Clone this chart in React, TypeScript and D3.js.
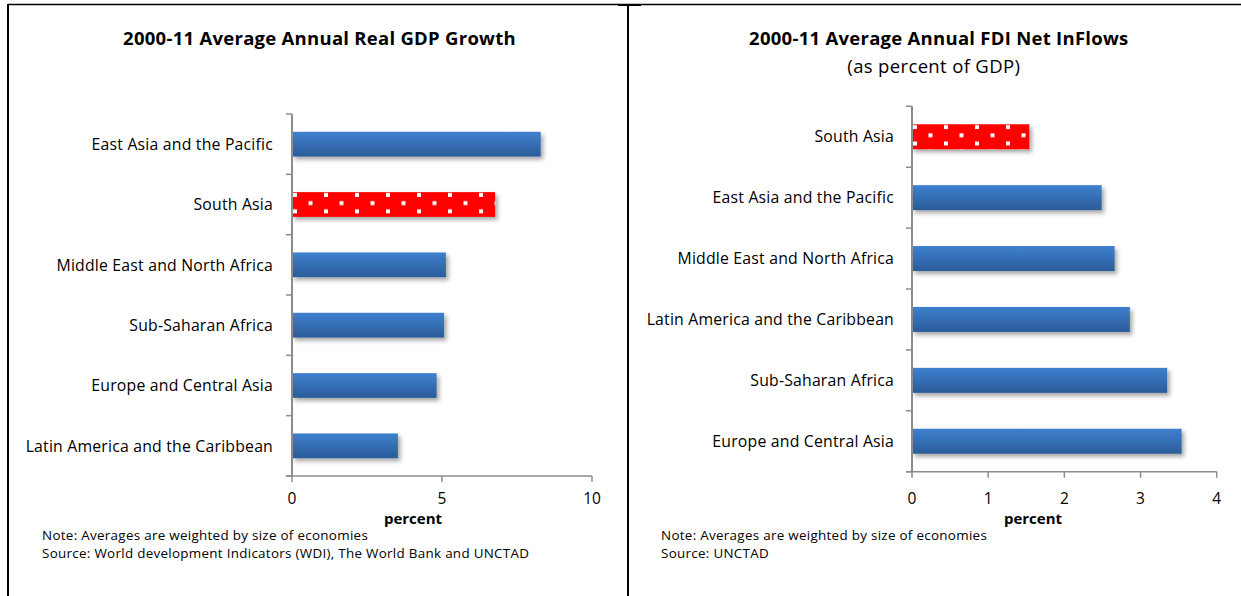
import React from "react";
import * as d3 from "d3";

const gdpCategories = [
  "East Asia and the Pacific",
  "South Asia",
  "Middle East and North Africa",
  "Sub-Saharan Africa",
  "Europe and Central Asia",
  "Latin America and the Caribbean",
];
const gdpValues = [8.29, 6.77, 5.13, 5.07, 4.82, 3.53];
const gdpTicks = [0, 5, 10];

const fdiCategories = [
  "South Asia",
  "East Asia and the Pacific",
  "Middle East and North Africa",
  "Latin America and the Caribbean",
  "Sub-Saharan Africa",
  "Europe and Central Asia",
];
const fdiValues = [1.54, 2.49, 2.66, 2.86, 3.35, 3.54];
const fdiTicks = [0, 1, 2, 3, 4];

const highlight = "South Asia";
const FONT = "'Open Sans', 'Noto Sans', sans-serif";
const AXIS = "#8c8c8c";

type PanelProps = {
  id: string;
  title: string;
  subtitle?: string;
  categories: string[];
  values: number[];
  ticks: number[];
  x0: number;
  x1: number;
  y0: number;
  y1: number;
  labelX: number;
  unitX: number;
  notes: string[];
  noteX: number;
  titleX: number;
};

function Panel(p: PanelProps) {
  const x = d3.scaleLinear().domain([p.ticks[0], p.ticks[p.ticks.length - 1]]).range([p.x0, p.x1]);
  const y = d3
    .scaleBand<string>()
    .domain(p.categories)
    .range([p.y0, p.y1])
    .paddingInner(0.59)
    .paddingOuter(0.295);
  const step = y.step();
  const boundaries = d3.range(p.categories.length + 1).map((i) => p.y0 + i * step);
  const hiY = y(highlight) ?? 0;
  return (
    <g>
      <defs>
        <pattern
          id={`dots-${p.id}`}
          patternUnits="userSpaceOnUse"
          x={p.x0}
          y={hiY}
          width={31}
          height={16.4}
        >
          <rect width={31} height={16.4} fill="#ff0000" />
          <rect x={1} y={0.8} width={4} height={4} fill="#ffffff" />
          <rect x={16.5} y={9} width={4} height={4} fill="#ffffff" />
        </pattern>
      </defs>
      <text
        x={p.titleX}
        y={45}
        textAnchor="middle"
        fontFamily={FONT}
        fontWeight="bold"
        fontSize={18.5}
        letterSpacing={0.27}
        fill="#000"
      >
        {p.title}
      </text>
      {p.subtitle && (
        <text
          x={p.titleX - 5}
          y={73}
          textAnchor="middle"
          fontFamily={FONT}
          fontSize={18.5}
          letterSpacing={0.35}
          fill="#000"
        >
          {p.subtitle}
        </text>
      )}
      {p.categories.map((c, i) => (
        <rect
          key={c}
          x={x(0)}
          y={y(c)}
          width={x(p.values[i]) - x(0)}
          height={y.bandwidth()}
          fill={c === highlight ? `url(#dots-${p.id})` : "url(#blueGrad)"}
          filter="url(#shadow)"
        />
      ))}
      <line x1={p.x0} x2={p.x0} y1={p.y0} y2={p.y1} stroke={AXIS} strokeWidth={2} />
      {boundaries.map((b, i) => (
        <line key={i} x1={p.x0 - 6} x2={p.x0} y1={b} y2={b} stroke={AXIS} strokeWidth={1.5} />
      ))}
      <line x1={p.x0 - 6} x2={p.x1} y1={p.y1} y2={p.y1} stroke={AXIS} strokeWidth={1.5} />
      {p.ticks.map((t) => (
        <g key={t}>
          <line x1={x(t)} x2={x(t)} y1={p.y1} y2={p.y1 + 6} stroke={AXIS} strokeWidth={1.5} />
          <text x={x(t)} y={504} textAnchor="middle" fontFamily={FONT} fontSize={15.5} fill="#000">
            {t}
          </text>
        </g>
      ))}
      {p.categories.map((c) => (
        <text
          key={c}
          x={p.labelX}
          y={(y(c) ?? 0) + y.bandwidth() / 2 + 5.7}
          textAnchor="end"
          fontFamily={FONT}
          fontSize={15.8}
          letterSpacing={0.2}
          fill="#000"
        >
          {c}
        </text>
      ))}
      <text x={p.unitX - 1} y={524} textAnchor="middle" fontFamily={FONT} fontWeight="bold" fontSize={15} fill="#000">
        percent
      </text>
      {p.notes.map((n, i) => (
        <text
          key={i}
          x={p.noteX}
          y={540 + i * 18}
          fontFamily={FONT}
          fontSize={13.4}
          letterSpacing={0.3}
          fill="#000"
        >
          {n}
        </text>
      ))}
    </g>
  );
}

export default function App() {
  return (
    <svg
      width={1241}
      height={596}
      style={{ position: "absolute", left: 0, top: 0, background: "#fff" }}
    >
      <defs>
        <linearGradient id="blueGrad" x1="0" y1="0" x2="0" y2="1">
          <stop offset="0" stopColor="#3e80cf" />
          <stop offset="1" stopColor="#2b5c99" />
        </linearGradient>
        <filter id="shadow" x="-5%" y="-30%" width="115%" height="190%">
          <feDropShadow dx={2.5} dy={3} stdDeviation={2.2} floodColor="#000" floodOpacity={0.35} />
        </filter>
      </defs>
      <rect width={1241} height={596} fill="#fff" />
      <line x1={8} x2={1241} y1={4.5} y2={4.5} stroke="#000" strokeWidth={1.5} />
      <line x1={8} x2={8} y1={4} y2={596} stroke="#000" strokeWidth={2} />
      <line x1={628} x2={628} y1={4} y2={596} stroke="#000" strokeWidth={2} />
      <rect x={618} y={4} width={23} height={2} fill="#000" />
      <Panel
        id="gdp"
        title="2000-11 Average Annual Real GDP Growth"
        categories={gdpCategories}
        values={gdpValues}
        ticks={gdpTicks}
        x0={292}
        x1={592}
        y0={114}
        y1={476}
        labelX={273}
        unitX={414}
        titleX={319.5}
        noteX={42}
        notes={[
          "Note: Averages are weighted by size of economies",
          "Source: World development Indicators (WDI), The World Bank and UNCTAD",
        ]}
      />
      <Panel
        id="fdi"
        title="2000-11 Average Annual FDI Net InFlows"
        subtitle="(as percent of GDP)"
        categories={fdiCategories}
        values={fdiValues}
        ticks={fdiTicks}
        x0={912}
        x1={1216.7}
        y0={106.3}
        y1={471.7}
        labelX={894}
        unitX={1034}
        titleX={938.8}
        noteX={661}
        notes={["Note: Averages are weighted by size of economies", "Source: UNCTAD"]}
      />
    </svg>
  );
}
